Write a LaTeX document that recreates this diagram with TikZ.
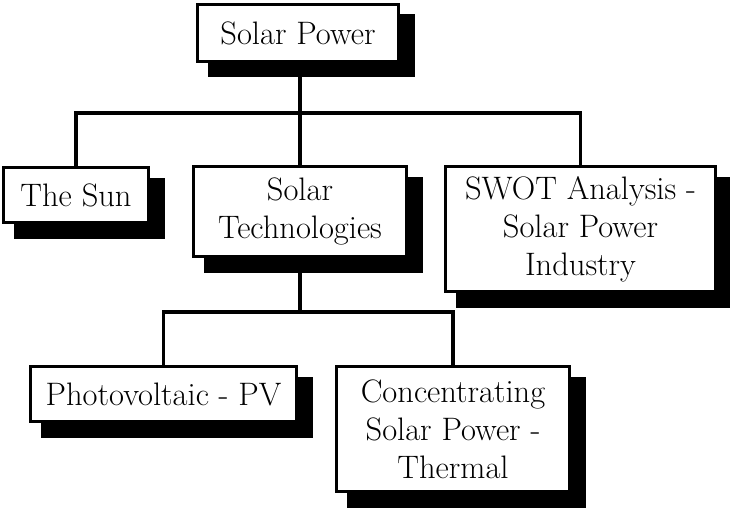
\documentclass[tikz,border=0pt]{standalone}
\usetikzlibrary{shadows}
\begin{document}
\begin{tikzpicture}[x=1pt,y=-1pt,
  box/.style={draw=black, line width=3pt, fill=white, align=center, inner sep=0pt,
    font=\fontsize{32.5}{38}\selectfont,
    drop shadow={shadow xshift=13pt, shadow yshift=-13pt, fill=black, draw=black, line width=6pt, opacity=1}},
  conn/.style={draw=black, line width=3.2pt}]
\useasboundingbox (0,0) rectangle (730,508);
\coordinate (b1) at (300,113);
\coordinate (b2) at (300,312);
\node[box, minimum width=201pt, minimum height=57pt] (sp) at (298,33) {Solar Power};
\node[box, minimum width=145pt, minimum height=55pt] (sun) at (76,195) {The Sun};
\node[box, minimum width=213pt, minimum height=90pt] (st) at (300,211.5) {Solar\\Technologies};
\node[box, minimum width=270pt, minimum height=125pt] (swot) at (580.5,229) {SWOT Analysis -\\Solar Power\\Industry};
\node[box, minimum width=266pt, minimum height=55pt] (pv) at (163.5,394) {Photovoltaic - PV};
\node[box, minimum width=233pt, minimum height=125pt] (csp) at (453,429) {Concentrating\\Solar Power -\\Thermal};
\draw[conn] (st.north |- sp.south) -- (st.north);
\draw[conn] (sun.north) -- (sun.north |- b1) -- (swot.north |- b1) -- (swot.north);
\draw[conn] (st.south) -- (b2);
\draw[conn] (pv.north) -- (pv.north |- b2) -- (csp.north |- b2) -- (csp.north);
\end{tikzpicture}
\end{document}
